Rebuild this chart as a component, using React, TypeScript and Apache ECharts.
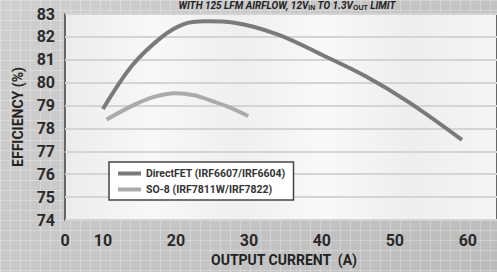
import React, { useEffect, useRef } from "react";
import * as echarts from "echarts";

const FONT = "Roboto, 'Liberation Sans', sans-serif";

const xMin = 4.8;
const xMax = 64;
const xTickValues = [xMin, 10, 20, 30, 40, 50, 60];
const xTickLabels = ["0", "10", "20", "30", "40", "50", "60"];

const directX = [10, 14, 18, 21, 24, 28, 34, 40, 46, 52, 59.2];
const directY = [78.85, 80.75, 81.98, 82.55, 82.68, 82.62, 82.1, 81.22, 80.28, 79.13, 77.5];

const so8X = [10.5, 14.4, 17, 19.9, 22.5, 24.9, 27.5, 29.9];
const so8Y = [78.39, 79.05, 79.38, 79.54, 79.45, 79.2, 78.9, 78.54];

const seriesNames = ["DirectFET (IRF6607/IRF6604)", "SO-8 (IRF7811W/IRF7822)"];

export default function App() {
  const ref = useRef<HTMLDivElement>(null);
  useEffect(() => {
    document.body.style.margin = "0";
    const chart = echarts.init(ref.current!, null, { renderer: "svg" });
    const pair = (xs: number[], ys: number[]) => xs.map((x, i) => [x, ys[i]]);
    chart.setOption({
      animation: false,
      textStyle: { fontFamily: FONT },
      grid: {
        left: 65,
        right: -3,
        top: 14,
        bottom: 52,
        show: true,
        backgroundColor: new echarts.graphic.LinearGradient(0, 0, 1, 0, [
          { offset: 0, color: "#ececec" },
          { offset: 0.2, color: "#f8f8f8" },
          { offset: 0.4, color: "#efefef" },
          { offset: 0.6, color: "#f9f9f9" },
          { offset: 0.8, color: "#eeeeee" },
          { offset: 1, color: "#f5f5f5" },
        ]),
        borderColor: "#666",
        borderWidth: 2,
      },
      graphic: [
        {
          type: "text",
          x: 287,
          y: 0,
          style: {
            text: "WITH 125 LFM AIRFLOW, 12V{s|IN} TO 1.3V{s|OUT} LIMIT",
            font: `bold italic 10px ${FONT}`,
            fill: "#222",
            align: "center",
            rich: { s: { fontSize: 7, fontWeight: "bold", fill: "#222", padding: [4, 0, 0, 0] } },
          },
        },
      ],
      legend: {
        data: seriesNames,
        orient: "vertical",
        left: 109,
        top: 162,
        backgroundColor: "#fff",
        borderColor: "#444",
        borderWidth: 1.5,
        borderRadius: 0,
        padding: [6, 8, 5, 9],
        itemWidth: 23,
        itemHeight: 4,
        itemGap: 5,
        icon: "rect",
        textStyle: { fontSize: 10.5, fontWeight: "bold", color: "#333", fontFamily: FONT },
      },
      xAxis: {
        type: "value",
        min: xMin,
        max: xMax,
        name: "OUTPUT CURRENT  (A)",
        nameLocation: "middle",
        nameGap: 33,
        nameTextStyle: { fontSize: 14, fontWeight: "bold", color: "#222", fontFamily: FONT, padding: [0, 0, 0, 6] },
        axisLine: { show: false },
        axisTick: { show: false },
        splitLine: { show: false },
        axisLabel: {
          customValues: xTickValues,
          formatter: (v: number) => {
            const i = xTickValues.findIndex((t) => Math.abs(t - v) < 1e-6);
            return i >= 0 ? xTickLabels[i] : "";
          },
          margin: 12,
          fontSize: 16,
          fontWeight: "bold",
          color: "#2a2a2a",
          fontFamily: FONT,
        },
      },
      yAxis: {
        type: "value",
        min: 74,
        max: 83,
        interval: 1,
        name: "EFFICIENCY (%)",
        nameLocation: "middle",
        nameGap: 40,
        nameRotate: 90,
        nameTextStyle: { fontSize: 14, fontWeight: "bold", color: "#222", fontFamily: FONT },
        axisLine: { show: false },
        axisTick: { show: false },
        splitLine: { show: true, lineStyle: { color: "#d4d4d4", width: 2 } },
        axisLabel: { margin: 10, fontSize: 16, fontWeight: "bold", color: "#2a2a2a", fontFamily: FONT },
      },
      series: [
        {
          name: seriesNames[0],
          type: "line",
          data: pair(directX, directY),
          smooth: 0.35,
          showSymbol: false,
          symbol: "none",
          color: "#7a7a7a",
          lineStyle: { color: "#7a7a7a", width: 4 },
        },
        {
          name: seriesNames[1],
          type: "line",
          data: pair(so8X, so8Y),
          smooth: 0.35,
          showSymbol: false,
          symbol: "none",
          color: "#ababab",
          lineStyle: { color: "#ababab", width: 4 },
        },
      ],
    });
    return () => chart.dispose();
  }, []);
  return (
    <div
      ref={ref}
      style={{
        width: 497,
        height: 272,
        backgroundColor: "#c2c2c2",
        backgroundImage:
          "linear-gradient(rgba(255,255,255,0.25) 1px, transparent 1px), linear-gradient(90deg, rgba(255,255,255,0.25) 1px, transparent 1px), linear-gradient(135deg, #cfcfcf, #bcbcbc)",
        backgroundSize: "10px 10px, 10px 10px, 100% 100%",
      }}
    />
  );
}
